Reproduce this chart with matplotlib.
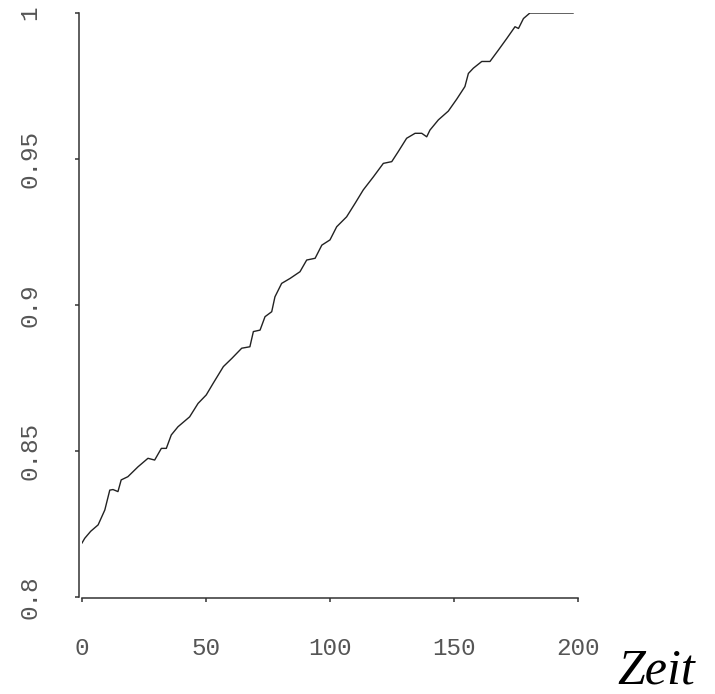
import numpy as np
import matplotlib.pyplot as plt

# Werte
zeit = [0, 1.1, 3.5, 6.5, 9.2, 11.2, 12.5, 14.5, 15.8, 18.5, 22.6, 26.6, 29.3, 32, 34,
        36, 38.7, 43.4, 46.8, 50.1, 52.9, 57, 60.4, 64.4, 67.7, 69.1, 71.8, 73.8,
        76.5, 77.8, 80.5, 83.9, 87.9, 90.6, 94, 96.7, 100, 102.7, 106.7, 110.1,
        113.4, 117.5, 121.5, 124.9, 127.5, 130.9, 134.3, 137, 139, 140.3, 143.7,
        147.7, 151.1, 154.4, 155.8, 157.8, 161.2, 164.5, 167.9, 171.3, 174.6, 176,
        178, 180.6, 198]
wert = [0.8185, 0.8201, 0.8225, 0.8247, 0.8298, 0.8366, 0.8368, 0.8361, 0.8401, 0.8412,
        0.8446, 0.8475, 0.8469, 0.8509, 0.8509, 0.8555, 0.8583, 0.8617, 0.8663,
        0.8692, 0.8732, 0.8789, 0.8817, 0.8852, 0.8857, 0.8909, 0.8914, 0.8960,
        0.8977, 0.9028, 0.9074, 0.9091, 0.9114, 0.9154, 0.9160, 0.9205, 0.9223,
        0.9268, 0.9302, 0.9348, 0.9394, 0.9439, 0.9485, 0.9491, 0.9525, 0.9571,
        0.9588, 0.9588, 0.9576, 0.9599, 0.9634, 0.9664, 0.9705, 0.9748, 0.9793,
        0.9811, 0.9834, 0.9834, 0.9873, 0.9913, 0.9953, 0.9947, 0.9981, 1.0, 1.0]

xticks = [0, 50, 100, 150, 200]
yticks = [0.8, 0.85, 0.9, 0.95, 1.0]
ylabels = ["0.8", "0.85", "0.9", "0.95", "1"]

W, H = 715, 694
fig = plt.figure(figsize=(W / 100, H / 100), dpi=100)
ax = fig.add_axes([82 / W, (H - 597) / H, 496 / W, 584 / H])

ax.plot(zeit, wert, color='#222222', lw=1.0)

ax.set_xlim(0, 200)
ax.set_ylim(0.8, 1.0)

for s in ['top', 'right']:
    ax.spines[s].set_visible(False)
ax.spines['left'].set_position(('outward', 2))
ax.spines['bottom'].set_position(('outward', 1))
for s in ['left', 'bottom']:
    ax.spines[s].set_color('#333333')
    ax.spines[s].set_linewidth(1.1)

ax.set_xticks(xticks)
ax.set_xticklabels([str(v) for v in xticks])
ax.set_yticks(yticks)
ax.set_yticklabels(ylabels, rotation=90, va='center')

ax.tick_params(axis='both', direction='out', length=3, width=1.1, color='#333333',
               labelcolor='#555555', labelsize=17.5)
ax.tick_params(axis='x', pad=25)
ax.tick_params(axis='y', pad=24)
for lab in ax.get_xticklabels() + ax.get_yticklabels():
    lab.set_family('Liberation Mono')

fig.text(617 / W, 1 - 684 / H, 'Zeit', family=['Liberation Serif', 'DejaVu Serif'],
         style='italic', fontsize=36, ha='left', va='baseline', color='black')

fig.savefig('out.png', dpi=100)
